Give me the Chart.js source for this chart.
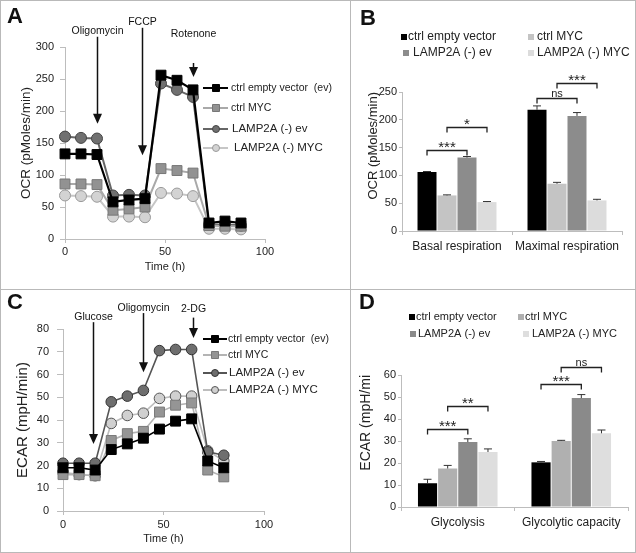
<!DOCTYPE html>
<html>
<head>
<meta charset="utf-8">
<script src="https://cdn.jsdelivr.net/npm/chart.js@4.4.1/dist/chart.umd.min.js"></script>
<style>
    body { margin: 0; background: #fff; }
    #fig { position: relative; width: 636px; height: 553px; background: #fff; overflow: hidden;
           font-family: "Liberation Sans", Arial, sans-serif; }
    #fig canvas { position: absolute; }
    .rule { position: absolute; background: #b9b9b9; }
    .tag { position: absolute; font-weight: bold; font-size: 22px; line-height: 22px; color: #111; }
</style>
</head>
<body>
<div id="fig">
    <canvas id="chartA" width="350" height="289" style="left:0;top:0"></canvas>
    <canvas id="chartB" width="286" height="289" style="left:350px;top:0"></canvas>
    <canvas id="chartC" width="350" height="264" style="left:0;top:289px"></canvas>
    <canvas id="chartD" width="286" height="264" style="left:350px;top:289px"></canvas>

    <div class="rule" style="left:0;top:0;width:636px;height:1px"></div>
    <div class="rule" style="left:0;top:552px;width:636px;height:1px"></div>
    <div class="rule" style="left:0;top:0;width:1px;height:553px"></div>
    <div class="rule" style="left:635px;top:0;width:1px;height:553px"></div>
    <div class="rule" style="left:350px;top:0;width:1px;height:553px"></div>
    <div class="rule" style="left:0;top:289px;width:636px;height:1px"></div>

    <div class="tag" style="left:7px;top:5px">A</div>
    <div class="tag" style="left:360px;top:7px">B</div>
    <div class="tag" style="left:7px;top:291px">C</div>
    <div class="tag" style="left:359px;top:291px">D</div>
</div>
<script>
// DATA STARTS

const seriesNames = ['ctrl empty vector', 'ctrl MYC', 'LAMP2A (-) ev', 'LAMP2A (-) MYC'];

// panel A - OCR time course
const timeA = [0, 8, 16, 24, 32, 40, 48, 56, 64, 72, 80, 88];
const ocrCtrlEv = [133, 133, 132, 58, 61, 63, 256, 248, 233, 25, 28, 25];
const ocrCtrlMyc = [86, 86, 85, 45, 47, 50, 110, 107, 103, 21, 20, 20];
const ocrLampEv = [160, 158, 157, 68, 69, 68, 243, 233, 222, 22, 23, 21];
const ocrLampMyc = [68, 67, 66, 35, 35, 34, 72, 71, 67, 16, 16, 15];

// panel C - ECAR time course
const timeC = [0, 8, 16, 24, 32, 40, 48, 56, 64, 72, 80];
const ecarCtrlEv = [19, 19, 18, 27, 29.5, 32, 36, 39.5, 40.5, 22, 19];
const ecarCtrlMyc = [16, 16, 15.5, 31, 34, 35, 43.5, 46.5, 47.5, 18, 15];
const ecarLampEv = [21, 21, 21, 48, 50.5, 53, 70.5, 71, 71, 26, 24.5];
const ecarLampMyc = [17, 16, 15.5, 38.5, 42, 43, 49.5, 50.5, 50.5, 26.5, 22];

// panel B - OCR bars
const groupsB = ['Basal respiration', 'Maximal respiration'];
const ocrBarCtrlEv = [106, 218];
const ocrBarCtrlMyc = [64, 85];
const ocrBarLampEv = [132, 207];
const ocrBarLampMyc = [52, 55];
const ocrErr = [[1, 7], [1, 2.5], [2, 6], [1, 2]];

// panel D - ECAR bars
const groupsD = ['Glycolysis', 'Glycolytic capacity'];
const ecarBarCtrlEv = [10.8, 20.3];
const ecarBarCtrlMyc = [17.5, 30];
const ecarBarLampEv = [29.5, 49.5];
const ecarBarLampMyc = [25, 33.5];
const ecarErr = [[1.8, 0.4], [1.4, 0.3], [1.5, 1.6], [1.4, 1.5]];

// injections (x = time, ty = label value, top/tip = arrow ends, in data units)
const injectA = [
    { text: 'Oligomycin', x: 16, ty: 325, top: 316, tip: 180 },
    { text: 'FCCP', x: 38.5, ty: 339, top: 330, tip: 131 },
    { text: 'Rotenone', x: 64, ty: 320, top: 275, tip: 253 }
];
const injectC = [
    { text: 'Glucose', x: 15, ty: 85.3, top: 83, tip: 29.5 },
    { text: 'Oligomycin', x: 40, ty: 89.2, top: 87, tip: 61 },
    { text: '2-DG', x: 64.5, ty: 88.8, top: 85, tip: 76 }
];

// significance brackets (bar indexes within a group)
const sigB = [
    { group: 0, from: 0, to: 2, y: 146, text: '***' },
    { group: 0, from: 1, to: 3, y: 187, text: '*' },
    { group: 1, from: 0, to: 2, y: 239, text: 'ns' },
    { group: 1, from: 1, to: 3, y: 266, text: '***' }
];
const sigD = [
    { group: 0, from: 0, to: 2, y: 35.5, text: '***' },
    { group: 0, from: 1, to: 3, y: 46, text: '**' },
    { group: 1, from: 0, to: 2, y: 56, text: '***' },
    { group: 1, from: 1, to: 3, y: 63.6, text: 'ns' }
];

// DATA ENDS

const fam = '"Liberation Sans", Arial, sans-serif';
const axisGray = '#bdbdbd';
Chart.defaults.font.family = fam;
Chart.defaults.color = '#222';
Chart.defaults.animation = false;

// extra drawing: arrows, error bars, brackets, custom legends
const extras = {
    id: 'extras',
    afterDatasetsDraw(chart, args, opts) {
        const ctx = chart.ctx;
        const sx = chart.scales.x;
        const sy = chart.scales.y;
        ctx.save();

        (opts.errors || []).forEach((errs, i) => {
            chart.getDatasetMeta(i).data.forEach((bar, j) => {
                const v = chart.data.datasets[i].data[j];
                const yTop = sy.getPixelForValue(v + errs[j]);
                ctx.strokeStyle = '#333';
                ctx.lineWidth = 1;
                ctx.beginPath();
                ctx.moveTo(bar.x, bar.y);
                ctx.lineTo(bar.x, yTop);
                ctx.moveTo(bar.x - 4, yTop);
                ctx.lineTo(bar.x + 4, yTop);
                ctx.stroke();
            });
        });

        (opts.brackets || []).forEach(b => {
            const x1 = chart.getDatasetMeta(b.from).data[b.group].x;
            const x2 = chart.getDatasetMeta(b.to).data[b.group].x;
            const y = Math.round(sy.getPixelForValue(b.y)) + 0.5;
            ctx.strokeStyle = '#222';
            ctx.lineWidth = 1.3;
            ctx.beginPath();
            ctx.moveTo(x1, y + 5);
            ctx.lineTo(x1, y);
            ctx.lineTo(x2, y);
            ctx.lineTo(x2, y + 5);
            ctx.stroke();
            ctx.fillStyle = '#222';
            ctx.textAlign = 'center';
            ctx.textBaseline = 'alphabetic';
            if (b.text === 'ns') {
                ctx.font = '11px ' + fam;
                ctx.fillText(b.text, (x1 + x2) / 2, y - 1.5);
            } else {
                ctx.font = '15px ' + fam;
                ctx.fillText(b.text, (x1 + x2) / 2, y + 1);
            }
        });

        (opts.arrows || []).forEach(a => {
            const x = Math.round(sx.getPixelForValue(a.x)) + 0.5;
            const yTip = sy.getPixelForValue(a.tip);
            const yTop = sy.getPixelForValue(a.top);
            ctx.fillStyle = '#111';
            ctx.font = '10.5px ' + fam;
            ctx.textAlign = 'center';
            ctx.textBaseline = 'middle';
            ctx.fillText(a.text, x, sy.getPixelForValue(a.ty));
            ctx.strokeStyle = '#111';
            ctx.lineWidth = 1.5;
            ctx.beginPath();
            ctx.moveTo(x, yTop);
            ctx.lineTo(x, yTip - 8);
            ctx.stroke();
            ctx.beginPath();
            ctx.moveTo(x - 4.5, yTip - 10);
            ctx.lineTo(x + 4.5, yTip - 10);
            ctx.lineTo(x, yTip);
            ctx.closePath();
            ctx.fill();
        });

        const L = opts.lineLegend;
        if (L) {
            chart.data.datasets.forEach((ds, i) => {
                const y = L.rows[i];
                ctx.strokeStyle = ds.borderColor;
                ctx.lineWidth = 2;
                ctx.beginPath();
                ctx.moveTo(L.x0, y);
                ctx.lineTo(L.x1, y);
                ctx.stroke();
                ctx.fillStyle = ds.pointBackgroundColor;
                ctx.strokeStyle = ds.pointBorderColor;
                ctx.lineWidth = 1;
                ctx.beginPath();
                if (ds.pointStyle === 'rect') ctx.rect(L.mx - 3.5, y - 3.5, 7, 7);
                else ctx.arc(L.mx, y, 3.5, 0, Math.PI * 2);
                ctx.fill();
                ctx.stroke();
                ctx.fillStyle = '#222';
                ctx.font = L.sizes[i] + 'px ' + fam;
                ctx.textAlign = 'left';
                ctx.textBaseline = 'middle';
                ctx.fillText(L.texts[i], L.tx[i], y);
            });
        }

        const B = opts.barLegend;
        if (B) {
            B.items.forEach((it, i) => {
                ctx.fillStyle = chart.data.datasets[i].backgroundColor;
                ctx.fillRect(it.x, it.y - 3, 6, 6);
                ctx.fillStyle = '#222';
                ctx.font = B.size + 'px ' + fam;
                ctx.textAlign = 'left';
                ctx.textBaseline = 'middle';
                ctx.fillText(chart.data.datasets[i].label, it.tx, it.y);
            });
        }
        ctx.restore();
    }
};

function lineSet(label, xs, ys, style) {
    return Object.assign({
        label: label,
        data: xs.map((t, i) => ({ x: t, y: ys[i] })),
        clip: false,
        tension: 0,
        pointBorderWidth: 1
    }, style);
}

function axes(o) {
    return {
        x: Object.assign({
            afterFit: s => { s.height = o.xh; },
            ticks: { font: { size: o.xFont }, padding: o.xPad, maxRotation: 0 },
            grid: { drawOnChartArea: false, color: axisGray, tickLength: 4 },
            border: { color: axisGray },
            title: o.xTitle ? { display: true, text: o.xTitle, font: { size: 11 }, padding: { top: 0, bottom: o.xTitlePad } } : { display: false }
        }, o.x),
        y: {
            min: 0, max: o.yMax,
            afterFit: s => { s.width = o.yw; },
            ticks: { stepSize: o.yStep, font: { size: 11 }, padding: o.yPad },
            grid: { drawOnChartArea: false, color: axisGray, tickLength: o.yTick },
            border: { color: axisGray },
            title: { display: true, text: o.yTitle, align: o.yAlign, font: { size: o.yTitleSize }, padding: { top: o.yTitlePad, bottom: 0 } }
        }
    };
}

// PANEL A
new Chart(document.getElementById('chartA'), {
    type: 'line',
    data: {
        datasets: [
            lineSet(seriesNames[0], timeA, ocrCtrlEv, { borderColor: '#000', borderWidth: 2.2, pointStyle: 'rect', pointRadius: 7, pointBackgroundColor: '#000', pointBorderColor: '#000' }),
            lineSet(seriesNames[1], timeA, ocrCtrlMyc, { borderColor: '#a9a9a9', borderWidth: 2, pointStyle: 'rect', pointRadius: 7, pointBackgroundColor: '#929292', pointBorderColor: '#777' }),
            lineSet(seriesNames[2], timeA, ocrLampEv, { borderColor: '#666', borderWidth: 2, pointStyle: 'circle', pointRadius: 5.5, pointBackgroundColor: '#707070', pointBorderColor: '#444' }),
            lineSet(seriesNames[3], timeA, ocrLampMyc, { borderColor: '#c6c6c6', borderWidth: 2, pointStyle: 'circle', pointRadius: 5.5, pointBackgroundColor: '#d3d3d3', pointBorderColor: '#9a9a9a' })
        ]
    },
    options: {
        responsive: false,
        events: [],
        layout: { padding: { left: 0, top: 47, right: 85, bottom: 0 } },
        scales: axes({
            xh: 50, xFont: 11, xPad: 2, xTitle: 'Time (h)', xTitlePad: 15,
            x: { type: 'linear', min: 0, max: 100, ticks: { stepSize: 50, font: { size: 11 }, padding: 2 } },
            yMax: 300, yStep: 50, yw: 65, yPad: 6, yTick: 5,
            yTitle: 'OCR (pMoles/min)', yAlign: 'center', yTitleSize: 13.5, yTitlePad: 18
        }),
        plugins: {
            legend: { display: false },
            tooltip: { enabled: false },
            extras: {
                arrows: injectA,
                lineLegend: {
                    x0: 203, x1: 228, mx: 216,
                    rows: [88, 108, 129, 148],
                    tx: [231, 231, 232, 234],
                    sizes: [10.5, 10.5, 11.5, 11.5],
                    texts: ['ctrl empty vector  (ev)', 'ctrl MYC', 'LAMP2A (-) ev', 'LAMP2A (-) MYC']
                }
            }
        }
    },
    plugins: [extras]
});

// PANEL C
new Chart(document.getElementById('chartC'), {
    type: 'line',
    data: {
        datasets: [
            lineSet(seriesNames[0], timeC, ecarCtrlEv, { borderColor: '#000', borderWidth: 1.6, pointStyle: 'rect', pointRadius: 7, pointBackgroundColor: '#000', pointBorderColor: '#000' }),
            lineSet(seriesNames[1], timeC, ecarCtrlMyc, { borderColor: '#b4b4b4', borderWidth: 1.6, pointStyle: 'rect', pointRadius: 7, pointBackgroundColor: '#959595', pointBorderColor: '#7a7a7a' }),
            lineSet(seriesNames[2], timeC, ecarLampEv, { borderColor: '#555', borderWidth: 1.6, pointStyle: 'circle', pointRadius: 5.3, pointBackgroundColor: '#6e6e6e', pointBorderColor: '#333' }),
            lineSet(seriesNames[3], timeC, ecarLampMyc, { borderColor: '#bdbdbd', borderWidth: 1.6, pointStyle: 'circle', pointRadius: 5.3, pointBackgroundColor: '#d0d0d0', pointBorderColor: '#555' })
        ]
    },
    options: {
        responsive: false,
        events: [],
        layout: { padding: { left: 0, top: 40, right: 86, bottom: 0 } },
        scales: axes({
            xh: 42, xFont: 11, xPad: 3, xTitle: 'Time (h)', xTitlePad: 7,
            x: { type: 'linear', min: 0, max: 100, ticks: { stepSize: 50, font: { size: 11 }, padding: 3 } },
            yMax: 80, yStep: 10, yw: 63, yPad: 8, yTick: 6,
            yTitle: 'ECAR (mpH/min)', yAlign: 'center', yTitleSize: 15, yTitlePad: 14
        }),
        plugins: {
            legend: { display: false },
            tooltip: { enabled: false },
            extras: {
                arrows: injectC,
                lineLegend: {
                    x0: 203, x1: 227, mx: 215,
                    rows: [50, 66, 84, 101],
                    tx: [228, 228, 229, 229],
                    sizes: [10.5, 10.5, 11.5, 11.5],
                    texts: ['ctrl empty vector  (ev)', 'ctrl MYC', 'LAMP2A (-) ev', 'LAMP2A (-) MYC']
                }
            }
        }
    },
    plugins: [extras]
});

// PANEL B
new Chart(document.getElementById('chartB'), {
    type: 'bar',
    data: {
        labels: groupsB,
        datasets: [
            { label: seriesNames[0], data: ocrBarCtrlEv, backgroundColor: '#000' },
            { label: seriesNames[1], data: ocrBarCtrlMyc, backgroundColor: '#c4c4c4' },
            { label: seriesNames[2], data: ocrBarLampEv, backgroundColor: '#8c8c8c' },
            { label: seriesNames[3], data: ocrBarLampMyc, backgroundColor: '#dcdcdc' }
        ]
    },
    options: {
        responsive: false,
        events: [],
        datasets: { bar: { barPercentage: 0.95, categoryPercentage: 0.727, borderWidth: 0 } },
        layout: { padding: { left: 0, top: 92, right: 14, bottom: 0 } },
        scales: axes({
            xh: 58, xFont: 12, xPad: 4,
            x: { grid: { drawOnChartArea: false, color: axisGray, tickLength: 4, offset: true } },
            yMax: 250, yStep: 50, yw: 52, yPad: 2, yTick: 3,
            yTitle: 'OCR (pMoles/min)', yAlign: 'end', yTitleSize: 13, yTitlePad: 15.5
        }),
        plugins: {
            legend: { display: false },
            tooltip: { enabled: false },
            extras: {
                errors: ocrErr,
                brackets: sigB,
                barLegend: {
                    size: 12,
                    items: [
                        { x: 51, y: 37, tx: 58 },
                        { x: 178, y: 37, tx: 187 },
                        { x: 53, y: 53, tx: 63 },
                        { x: 178, y: 53, tx: 187 }
                    ]
                }
            }
        }
    },
    plugins: [extras]
});

// PANEL D
new Chart(document.getElementById('chartD'), {
    type: 'bar',
    data: {
        labels: groupsD,
        datasets: [
            { label: seriesNames[0], data: ecarBarCtrlEv, backgroundColor: '#000' },
            { label: seriesNames[1], data: ecarBarCtrlMyc, backgroundColor: '#b0b0b0' },
            { label: seriesNames[2], data: ecarBarLampEv, backgroundColor: '#8a8a8a' },
            { label: seriesNames[3], data: ecarBarLampMyc, backgroundColor: '#dedede' }
        ]
    },
    options: {
        responsive: false,
        events: [],
        datasets: { bar: { barPercentage: 0.95, categoryPercentage: 0.71, borderWidth: 0 } },
        layout: { padding: { left: 0, top: 86, right: 8, bottom: 0 } },
        scales: axes({
            xh: 46, xFont: 12, xPad: 4,
            x: { grid: { drawOnChartArea: false, color: axisGray, tickLength: 4, offset: true } },
            yMax: 60, yStep: 10, yw: 51, yPad: 2, yTick: 3,
            yTitle: 'ECAR (mpH/mi', yAlign: 'end', yTitleSize: 14, yTitlePad: 7.6
        }),
        plugins: {
            legend: { display: false },
            tooltip: { enabled: false },
            extras: {
                errors: ecarErr,
                brackets: sigD,
                barLegend: {
                    size: 11,
                    items: [
                        { x: 59, y: 28, tx: 66 },
                        { x: 168, y: 28, tx: 175 },
                        { x: 60, y: 45, tx: 68 },
                        { x: 173, y: 45, tx: 182 }
                    ]
                }
            }
        }
    },
    plugins: [extras]
});
</script>
</body>
</html>
